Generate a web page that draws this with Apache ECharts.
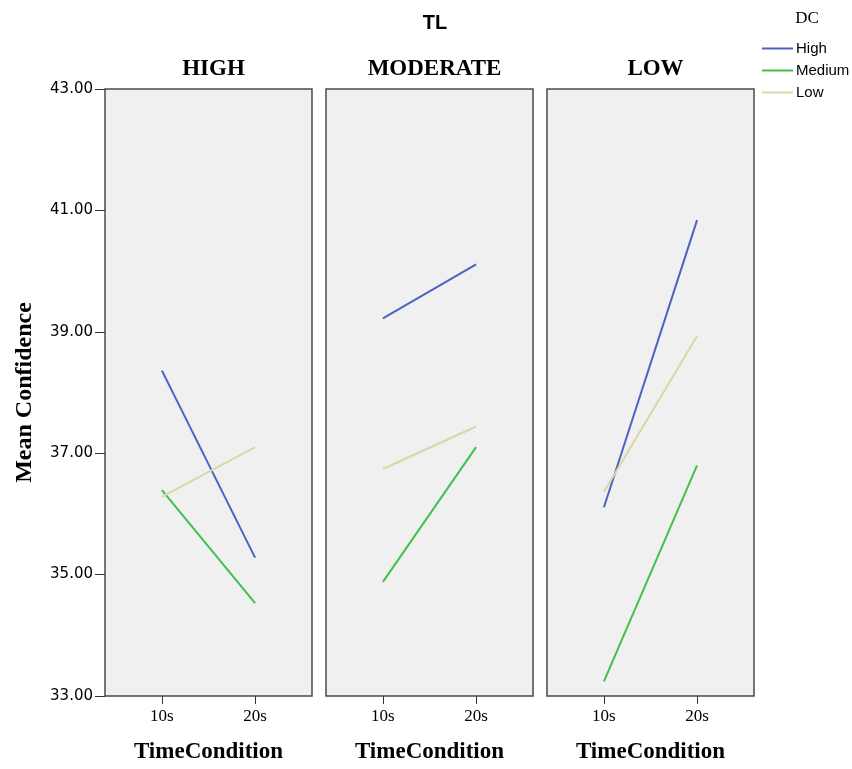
<!DOCTYPE html>
<html>
<head>
<meta charset="utf-8">
<title>Mean Confidence by TimeCondition</title>
<script src="https://cdn.jsdelivr.net/npm/echarts@6/dist/echarts.min.js"></script>
<style>
  html, body { margin: 0; padding: 0; background: #fff; }
</style>
</head>
<body>
<div id="chart_main" style="width:852px; height:769px;"></div>
<script>
// data
var panelNames = ['HIGH', 'MODERATE', 'LOW'];      // TL panels
var timeLabels = ['10s', '20s'];                    // TimeCondition
var dcNames = ['High', 'Medium', 'Low'];            // DC legend
var yTicks = [33, 35, 37, 39, 41, 43];
// each row = one TL panel, [10s, 20s]
var dcHighMeans = [[38.36, 35.28], [39.22, 40.11], [36.11, 40.84]];
var dcMediumMeans = [[36.39, 34.53], [34.88, 37.10], [33.24, 36.80]];
var dcLowMeans = [[36.28, 37.10], [36.74, 37.44], [36.36, 38.93]];

var dcColors = ['#4b62c2', '#3fc24c', '#dcd5a6'];
var dcMeans = [dcHighMeans, dcMediumMeans, dcLowMeans];

// panel boxes
var panelLeft = [105, 326, 547];
var panelWidth = 207;
var panelTop = 89;
var panelHeight = 609;

var serif = '"Liberation Serif", "DejaVu Serif", serif';
var sans = '"Liberation Sans", Arial, sans-serif';

var grids = [], xAxes = [], yAxes = [], series = [];
var titles = [{
  text: 'TL', left: 430, top: 8, textAlign: 'center',
  textStyle: { fontFamily: sans, fontSize: 20, fontWeight: 'bold', color: '#000' }
}, {
  text: 'DC', left: 802, top: 5, textAlign: 'center',
  textStyle: { fontFamily: serif, fontSize: 17, fontWeight: 'normal', color: '#000' }
}];

for (var p = 0; p < panelNames.length; p++) {
  grids.push({
    left: panelLeft[p], top: panelTop, width: panelWidth, height: panelHeight,
    show: true, backgroundColor: '#f0f0f0', borderColor: '#4a4a4a', borderWidth: 1.5
  });
  titles.push({
    text: panelNames[p], left: panelLeft[p] + panelWidth / 2, top: 53, textAlign: 'center',
    textStyle: { fontFamily: serif, fontSize: 23, fontWeight: 'bold', color: '#000' }
  });
  xAxes.push({
    type: 'value', gridIndex: p, min: 0.389, max: 2.611,
    name: 'TimeCondition', nameLocation: 'middle', nameGap: 45,
    nameTextStyle: { fontFamily: serif, fontSize: 23, fontWeight: 'bold', color: '#000' },
    axisLine: { show: false },
    splitLine: { show: false },
    axisTick: { show: true, customValues: [1, 2], length: 8, lineStyle: { color: '#333' } },
    axisLabel: {
      customValues: [1, 2], margin: 12,
      fontFamily: serif, fontSize: 17, color: '#000',
      formatter: function (v) { return timeLabels[Math.round(v) - 1]; }
    }
  });
  yAxes.push({
    type: 'value', gridIndex: p, min: 33, max: 43,
    name: p === 0 ? 'Mean Confidence' : '', nameLocation: 'middle', nameGap: 68, nameRotate: 90,
    nameTextStyle: { fontFamily: serif, fontSize: 24, fontWeight: 'bold', color: '#000' },
    axisLine: { show: false },
    splitLine: { show: false },
    axisTick: { show: p === 0, customValues: yTicks, length: 10, lineStyle: { color: '#333' } },
    axisLabel: {
      show: p === 0, customValues: yTicks, margin: 12,
      fontFamily: '"DejaVu Sans", sans-serif', fontSize: 15, color: '#000',
      formatter: function (v) { return v.toFixed(2); }
    }
  });
  for (var d = 0; d < dcNames.length; d++) {
    series.push({
      name: dcNames[d], type: 'line', xAxisIndex: p, yAxisIndex: p,
      symbol: 'none', silent: true,
      data: timeLabels.map(function (t, i) { return [i + 1, dcMeans[d][p][i]]; }),
      itemStyle: { color: dcColors[d] },
      lineStyle: { color: dcColors[d], width: 2 }
    });
  }
}

var myChart = echarts.init(document.getElementById('chart_main'));
var option = {
  animation: false,
  title: titles,
  legend: {
    data: dcNames, orient: 'vertical', left: 757, top: 36,
    icon: 'rect', itemWidth: 31, itemHeight: 2, itemGap: 7,
    selectedMode: false,
    textStyle: { fontFamily: sans, fontSize: 15, lineHeight: 15, color: '#000', padding: [0, 0, 0, -2] }
  },
  grid: grids,
  xAxis: xAxes,
  yAxis: yAxes,
  series: series
};
myChart.setOption(option);
</script>
</body>
</html>
